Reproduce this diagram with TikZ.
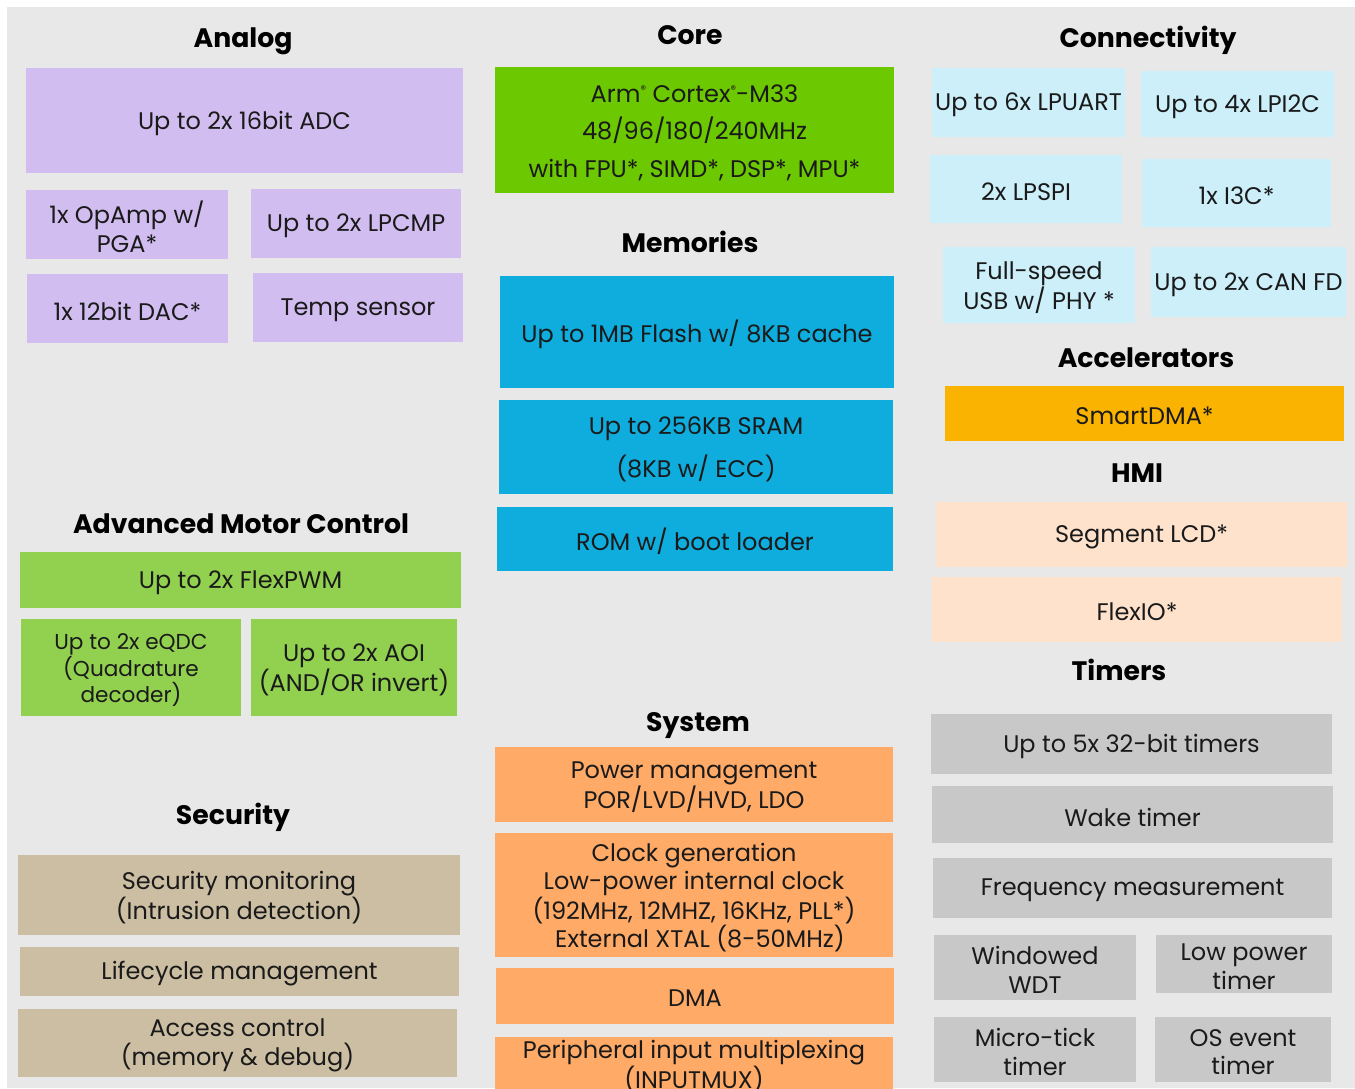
\documentclass[tikz,border=0pt]{standalone}
\usepackage{fontspec}
\setmainfont{Poppins}
% body and heading fonts
\newcommand\blkfont{\fontsize{24}{28.5}\selectfont}
\newcommand\ttlfont{\fontsize{26.7}{30}\selectfont\bfseries}
\newcommand\regmark{{\fontsize{11}{11}\selectfont\raisebox{9pt}{®}}}
% a coloured block given by its corners (x1,y1)-(x2,y2), y measured downwards,
% with its centred label as a named node
\newcommand\mkblk[8][]{%
  \fill[#3] (#4,#5) rectangle (#6,#7);
  \node[lbl, #1] (#2) at ({(#4+#6)/2},{(#5+#7)/2+2.5}) {#8};}
\definecolor{bg}{HTML}{E8E8E8}
\definecolor{txt}{HTML}{1A1A1A}
\definecolor{analog}{HTML}{D2BDF0}
\definecolor{core}{HTML}{6CC800}
\definecolor{mem}{HTML}{0EADDE}
\definecolor{conn}{HTML}{CCEFFA}
\definecolor{accel}{HTML}{F9B300}
\definecolor{hmi}{HTML}{FFE2CC}
\definecolor{tmr}{HTML}{C8C8C8}
\definecolor{motor}{HTML}{92D050}
\definecolor{secu}{HTML}{CCBEA2}
\definecolor{sys}{HTML}{FFAA66}
\begin{document}
\begin{tikzpicture}[x=1pt,y=-1pt,
  lbl/.style={inner sep=0pt, align=center, text=txt, font=\blkfont},
  ttl/.style={anchor=base, inner sep=0pt, font=\ttlfont, text=black}]
\useasboundingbox (0,0) rectangle (1355,1089);
\clip (0,0) rectangle (1355,1089);
\fill[bg] (7,7) rectangle (1355,1088);

% ---------------- Analog
\node[ttl] (tAnalog) at (243,48) {Analog};
\mkblk{adc}{analog}{26}{68}{463}{173}{Up to 2x 16bit ADC}
\mkblk{opamp}{analog}{26}{190}{228}{259}{1x OpAmp w/\\PGA*}
\mkblk{lpcmp}{analog}{251}{189}{461}{258}{Up to 2x LPCMP}
\mkblk{dac}{analog}{27}{274}{228}{343}{1x 12bit DAC*}
\mkblk{temp}{analog}{253}{273}{463}{342}{Temp sensor}

% ---------------- Advanced Motor Control
\node[ttl] (tMotor) at (241,533) {Advanced Motor Control};
\mkblk{pwm}{motor}{20}{552}{461}{608}{Up to 2x FlexPWM}
\mkblk[font={\fontsize{21.6}{25.5}\selectfont}]{eqdc}{motor}{21}{619}{241}{716}{Up to 2x eQDC\\(Quadrature\\decoder)}
\mkblk{aoi}{motor}{251}{619}{457}{716}{Up to 2x AOI\\(AND/OR invert)}

% ---------------- Security
\node[ttl] (tSec) at (233,824) {Security};
\mkblk{secmon}{secu}{18}{855}{460}{935}{Security monitoring\\(Intrusion detection)}
\mkblk{lifecycle}{secu}{20}{947}{459}{996}{Lifecycle management}
\mkblk{access}{secu}{18}{1009}{457}{1077}{Access control\\(memory \& debug)}

% ---------------- Core
\node[ttl] (tCore) at (690,45) {Core};
\mkblk[font={\fontsize{24}{37.5}\selectfont}]{cpu}{core}{495}{67}{894}{193}{Arm\regmark\ Cortex\regmark-M33\\48/96/180/240MHz\\with FPU*, SIMD*, DSP*, MPU*}

% ---------------- Memories
\node[ttl] (tMem) at (690,252) {Memories};
\mkblk{flash}{mem}{500}{276}{894}{388}{Up to 1MB Flash w/ 8KB cache}
\mkblk[font={\fontsize{24}{43}\selectfont}]{sram}{mem}{499}{400}{893}{494}{Up to 256KB SRAM\\(8KB w/ ECC)}
\mkblk{rom}{mem}{497}{507}{893}{571}{ROM w/ boot loader}

% ---------------- System
\node[ttl] (tSys) at (698,731) {System};
\mkblk{power}{sys}{495}{747}{893}{822}{Power management\\POR/LVD/HVD, LDO}
\mkblk{clock}{sys}{495}{833}{893}{957}{Clock generation\\Low-power internal clock\\(192MHz, 12MHZ, 16KHz, PLL*)\\\hspace*{12pt}External XTAL (8-50MHz)}
\mkblk{dma}{sys}{496}{968}{894}{1024}{DMA}
\mkblk{inputmux}{sys}{495}{1037}{893}{1092}{Peripheral input multiplexing\\(INPUTMUX)}

% ---------------- Connectivity
\node[ttl] (tConn) at (1148,48) {Connectivity};
\mkblk{lpuart}{conn}{932}{68}{1125}{137}{Up to 6x LPUART}
\mkblk{lpi2c}{conn}{1141}{71}{1334}{137}{Up to 4x LPI2C}
\mkblk{lpspi}{conn}{930}{155}{1122}{223}{2x LPSPI}
\mkblk{i3c}{conn}{1142}{159}{1331}{227}{1x I3C*}
\mkblk{usb}{conn}{943}{247}{1135}{323}{Full-speed\\USB w/ PHY *}
\mkblk{can}{conn}{1151}{247}{1346}{317}{Up to 2x CAN FD}

% ---------------- Accelerators
\node[ttl] (tAcc) at (1146,367) {Accelerators};
\mkblk{smartdma}{accel}{945}{386}{1344}{441}{SmartDMA*}

% ---------------- HMI
\node[ttl] (tHmi) at (1137,482) {HMI};
\mkblk{slcd}{hmi}{936}{502}{1347}{567}{Segment LCD*}
\mkblk{flexio}{hmi}{932}{577}{1342}{642}{FlexIO*}

% ---------------- Timers
\node[ttl] (tTmr) at (1119,680) {Timers};
\mkblk{ctimer}{tmr}{931}{714}{1332}{774}{Up to 5x 32-bit timers}
\mkblk{wake}{tmr}{932}{786}{1333}{843}{Wake timer}
\mkblk{freq}{tmr}{933}{858}{1332}{918}{Frequency measurement}
\mkblk{wdt}{tmr}{934}{935}{1136}{1000}{Windowed\\WDT}
\mkblk{lptmr}{tmr}{1156}{935}{1332}{993}{Low power\\timer}
\mkblk{utick}{tmr}{934}{1017}{1136}{1082}{Micro-tick\\timer}
\mkblk{ostimer}{tmr}{1155}{1017}{1331}{1082}{OS event\\timer}
\end{tikzpicture}
\end{document}
